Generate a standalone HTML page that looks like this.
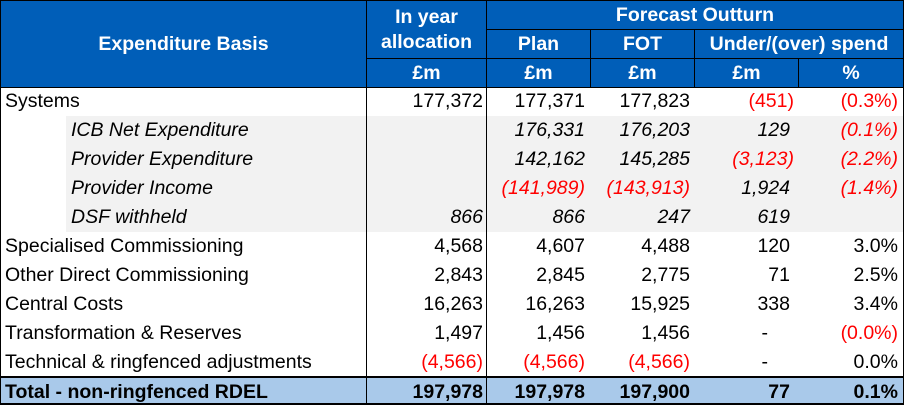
<!DOCTYPE html>
<html><head><meta charset="utf-8"><style>
*{margin:0;padding:0;box-sizing:border-box}
body{width:904px;height:407px;background:#fff;position:relative;overflow:hidden;font-family:"Liberation Sans",Arial,sans-serif;font-size:19.5px;color:#000}
.a{position:absolute}
.h{position:absolute;background:#005EB8;color:#fff;font-weight:bold;display:flex;align-items:center;justify-content:center;text-align:center;line-height:25px;border:1px solid #000;font-size:19.5px}
.r{position:absolute;height:29px;line-height:29px;white-space:nowrap}
.n{text-align:right}
.vl{position:absolute;width:1px;background:#000}
</style></head><body>
<div class="h" style="left:0;top:0;width:367px;height:88px">Expenditure Basis</div>
<div class="h" style="left:366px;top:0;width:121px;height:59px">In year<br>allocation</div>
<div class="h" style="left:366px;top:58px;width:121px;height:30px">£m</div>
<div class="h" style="left:486px;top:0;width:418px;height:30px">Forecast Outturn</div>
<div class="h" style="left:486px;top:29px;width:105px;height:30px">Plan</div>
<div class="h" style="left:590px;top:29px;width:105px;height:30px">FOT</div>
<div class="h" style="left:694px;top:29px;width:210px;height:30px">Under/(over) spend</div>
<div class="h" style="left:486px;top:58px;width:105px;height:30px">£m</div>
<div class="h" style="left:590px;top:58px;width:105px;height:30px">£m</div>
<div class="h" style="left:694px;top:58px;width:105px;height:30px">£m</div>
<div class="h" style="left:798px;top:58px;width:106px;height:30px">%</div>

<div class="a" style="left:66px;top:116px;width:838px;height:116px;background:#F2F2F2"></div>
<div class="a" style="left:0;top:376px;width:904px;height:29px;background:#A9C9EA;border:1px solid #000;border-width:2px 1px 2px 1px"></div>
<div class="vl" style="left:0;top:87px;height:318px"></div>
<div class="vl" style="left:366px;top:87px;height:318px"></div>
<div class="vl" style="left:486px;top:87px;height:318px"></div>
<div class="vl" style="left:903px;top:87px;height:318px"></div>

<div id="rows"></div>
<script>
var rows=[
["Systems",0,"177,372","177,371","177,823","(451)","(0.3%)",""],
["ICB Net Expenditure",1,"","176,331","176,203","129","(0.1%)"],
["Provider Expenditure",1,"","142,162","145,285","(3,123)","(2.2%)"],
["Provider Income",1,"","(141,989)","(143,913)","1,924","(1.4%)"],
["DSF withheld",1,"866","866","247","619",""],
["Specialised Commissioning",0,"4,568","4,607","4,488","120","3.0%"],
["Other Direct Commissioning",0,"2,843","2,845","2,775","71","2.5%"],
["Central Costs",0,"16,263","16,263","15,925","338","3.4%"],
["Transformation & Reserves",0,"1,497","1,456","1,456","-","(0.0%)"],
["Technical & ringfenced adjustments",0,"(4,566)","(4,566)","(4,566)","-","0.0%"],
["Total - non-ringfenced RDEL",2,"197,978","197,978","197,900","77","0.1%"]];
var ends=[483,585,690,794,898];
var h="";
rows.forEach(function(r,i){
 var top=87+i*29+(i==10?1:0);
 var st=r[1]==1?"font-style:italic;":"";
 var bw=r[1]==2?"font-weight:bold;":"";
 h+='<div class="r" style="left:'+(r[1]==1?71:5)+'px;top:'+top+'px;'+st+bw+'">'+r[0].replace("&","&amp;")+'</div>';
 for(var c=0;c<5;c++){var v=r[2+c];if(!v)continue;
  var e=ends[c];
  if(c==3&&v.indexOf("(")<0)e-=4;
  if(v=="-")e=768;
  var red=v.indexOf("(")==0?"color:#f00;":"";
  h+='<div class="r n" style="right:'+(904-e)+'px;top:'+top+'px;'+st+bw+red+'">'+v+'</div>';}
});
document.getElementById("rows").innerHTML=h;
</script>
</body></html>
